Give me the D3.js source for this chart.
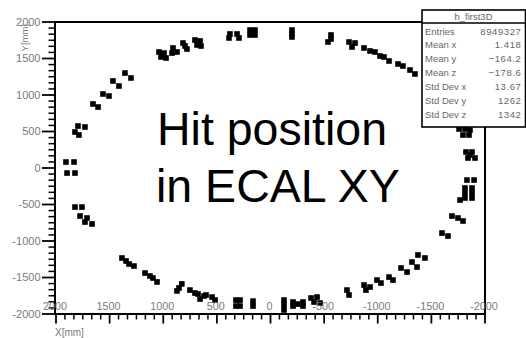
<!DOCTYPE html>
<html>
<head>
<meta charset="utf-8">
<script src="https://cdn.jsdelivr.net/npm/d3@7/dist/d3.min.js"></script>
<style>
  html, body { margin: 0; padding: 0; background: #fff; }
  svg { display: block; font-family: "Liberation Sans", Arial, sans-serif; }
</style>
</head>
<body>
<svg id="chart" width="526" height="338"></svg>
<script>
// Axis ticks (mm); the X axis runs from +2000 on the left to -2000 on the right
const xTicks = [2000, 1500, 1000, 500, 0, -500, -1000, -1500, -2000];
const yTicks = [2000, 1500, 1000, 500, 0, -500, -1000, -1500, -2000];
const xTickLabels = ["2000", "1500", "1000", "500", "0", "-500", "-1000", "-1500", "-2000"];
const yTickLabels = ["2000", "1500", "1000", "500", "0", "-500", "-1000", "-1500", "-2000"];

// Statistics box of the histogram
const statTitle = "h_first3D";
const statLabels = ["Entries", "Mean x", "Mean y", "Mean z", "Std Dev x", "Std Dev y", "Std Dev z"];
const statValues = ["8949327", "1.418", "\u2212164.2", "\u2212178.6", "13.67", "1262", "1342"];

// Hit positions [x, y] in mm, grouped by part of the ring
const hitsTop = [
  [1655, 877], [1608, 835],
  [1562, 1014], [1506, 986],
  [1469, 1192], [1413, 1123],
  [1357, 1301], [1301, 1233],
  [1040, 1589], [993, 1575], [1021, 1521], [974, 1507],
  [909, 1644], [872, 1589], [918, 1575],
  [816, 1712], [797, 1671], [779, 1630],
  [704, 1753], [657, 1740], [685, 1685], [648, 1671],
  [378, 1836], [387, 1781],
  [312, 1836], [294, 1781],
  [191, 1890], [145, 1890], [191, 1822], [145, 1822],
  [-200, 1890], [-200, 1836], [-200, 1795],
  [-564, 1822], [-564, 1767], [-536, 1726],
  [-732, 1726], [-788, 1712], [-760, 1658],
  [-872, 1644], [-928, 1603],
  [-974, 1589], [-1021, 1534],
  [-1058, 1521], [-1105, 1466],
  [-1189, 1425], [-1235, 1397],
  [-1301, 1342], [-1347, 1288],
  [-1480, 1100], [-1600, 900], [-1700, 700]
];
const hitsRight = [
  [-1758, 534], [-1813, 534], [-1860, 520],
  [-1795, 452], [-1851, 452],
  [-1823, 219], [-1879, 219], [-1860, 178], [-1841, 137], [-1907, 137],
  [-1832, -165], [-1898, -165],
  [-1813, -274], [-1879, -274], [-1813, -343], [-1879, -343],
  [-1813, -411], [-1879, -411], [-1767, -439],
  [-1692, -658], [-1748, -685], [-1795, -726],
  [-1599, -891], [-1655, -932]
];
const hitsBottom = [
  [-1375, -1192], [-1440, -1233],
  [-1319, -1288], [-1366, -1357],
  [-1217, -1370], [-1273, -1425],
  [-1105, -1494], [-1142, -1535],
  [-993, -1535], [-1030, -1576],
  [-872, -1603], [-928, -1631], [-890, -1672],
  [-713, -1672], [-732, -1740],
  [-378, -1781], [-434, -1768], [-406, -1836], [-462, -1850],
  [-210, -1836], [-256, -1864], [-303, -1836], [-210, -1891], [-303, -1891],
  [-126, -1809], [-126, -1877], [-126, -1945],
  [163, -1823], [163, -1891],
  [322, -1809], [284, -1809], [322, -1891], [284, -1891],
  [601, -1740], [545, -1768], [517, -1809],
  [676, -1726], [620, -1754], [657, -1795],
  [751, -1672], [704, -1713],
  [872, -1684], [853, -1643], [827, -1588],
  [1096, -1507], [1058, -1561],
  [1170, -1439], [1124, -1480],
  [1319, -1315], [1273, -1343],
  [1385, -1233], [1347, -1274]
];
const hitsLeft = [
  [1730, -740], [1664, -767],
  [1776, -658], [1711, -685],
  [1823, -535], [1758, -535],
  [1897, -69], [1823, -69],
  [1907, 82], [1832, 82],
  [1795, 575], [1730, 562], [1823, 493], [1786, 452]
];

const svg = d3.select("#chart");

const x = d3.scaleLinear().domain([2000, -2000]).range([56, 485]);
const y = d3.scaleLinear().domain([-2000, 2000]).range([314, 22]);

const labelGrey = "#7a7a7a";

// Minor ticks: five between neighbouring major ticks
const minorOf = ticks => {
  const out = [];
  for (let i = 0; i < ticks.length - 1; i++) {
    const a = ticks[i], b = ticks[i + 1];
    for (let k = 1; k < 6; k++) out.push(a + (b - a) * k / 6);
  }
  return out;
};

// Hits
const hitSize = 5.6;
const hits = svg.append("g");
[hitsTop, hitsRight, hitsBottom, hitsLeft].forEach(group => {
  hits.selectAll(null).data(group).enter().append("rect")
    .attr("x", d => x(d[0]) - hitSize / 2)
    .attr("y", d => y(d[1]) - hitSize / 2)
    .attr("width", hitSize)
    .attr("height", hitSize)
    .attr("fill", "#000");
});

// Frame
svg.append("rect")
  .attr("x", x(2000) - 1).attr("y", y(2000))
  .attr("width", x(-2000) - x(2000) + 1).attr("height", y(-2000) - y(2000))
  .attr("fill", "none").attr("stroke", "#000").attr("stroke-width", 2);

// Y axis ticks (outside, to the left)
const yAx = svg.append("g").attr("stroke", "#000");
yAx.selectAll(null).data(yTicks).enter().append("line")
  .attr("x1", 42).attr("x2", 55).attr("y1", d => y(d)).attr("y2", d => y(d))
  .attr("stroke-width", 1.8);
yAx.selectAll(null).data(minorOf(yTicks)).enter().append("line")
  .attr("x1", 48.5).attr("x2", 55).attr("y1", d => y(d)).attr("y2", d => y(d))
  .attr("stroke-width", 1.5);

svg.append("g").selectAll(null).data(yTicks).enter().append("text")
  .attr("x", 40.5).attr("y", d => y(d) + 3.8)
  .attr("text-anchor", "end")
  .attr("font-size", 11).attr("fill", labelGrey)
  .text((d, i) => yTickLabels[i]);

// X axis ticks (below the frame) with labels drawn just above the axis
const xAx = svg.append("g").attr("stroke", "#000");
xAx.selectAll(null).data(xTicks).enter().append("line")
  .attr("x1", d => x(d)).attr("x2", d => x(d)).attr("y1", 314).attr("y2", 323.5)
  .attr("stroke-width", 1.8);
xAx.selectAll(null).data(minorOf(xTicks)).enter().append("line")
  .attr("x1", d => x(d)).attr("x2", d => x(d)).attr("y1", 314).attr("y2", 319.5)
  .attr("stroke-width", 1.5);

svg.append("g").selectAll(null).data(xTicks).enter().append("text")
  .attr("x", d => x(d) - 1).attr("y", 309.5)
  .attr("text-anchor", "middle")
  .attr("font-size", 10.8).attr("fill", labelGrey)
  .text((d, i) => xTickLabels[i]);

// Axis titles
svg.append("text")
  .attr("transform", "translate(28,24) rotate(-90)")
  .attr("text-anchor", "end")
  .attr("font-size", 9.5).attr("fill", labelGrey)
  .text("Y[mm]");
svg.append("text")
  .attr("x", 55).attr("y", 336)
  .attr("font-size", 10).attr("fill", labelGrey)
  .text("X[mm]");

// Statistics box
const box = svg.append("g");
box.append("rect")
  .attr("x", 422).attr("y", 10).attr("width", 103.5).attr("height", 117)
  .attr("fill", "#fff").attr("stroke", "#000").attr("stroke-width", 1.6);
box.append("line")
  .attr("x1", 422).attr("x2", 525.5).attr("y1", 23).attr("y2", 23)
  .attr("stroke", "#000").attr("stroke-width", 1.6);
box.append("text")
  .attr("x", 473.5).attr("y", 19.5).attr("text-anchor", "middle")
  .attr("font-size", 9.5).attr("fill", "#666")
  .text(statTitle);
const rowY = d3.scaleLinear().domain([0, statLabels.length - 1]).range([34.5, 117.5]);
box.selectAll(null).data(statLabels).enter().append("text")
  .attr("x", 425).attr("y", (d, i) => rowY(i))
  .attr("font-size", 9.5).attr("fill", "#666")
  .text(d => d);
box.selectAll(null).data(statValues).enter().append("text")
  .attr("x", 521.5).attr("y", (d, i) => rowY(i))
  .attr("text-anchor", "end")
  .attr("font-size", 9.5).attr("fill", "#666").attr("letter-spacing", 0.6)
  .text(d => d);

// Overlay caption
const cap = svg.append("g").attr("font-size", 46.5).attr("fill", "#000");
cap.append("text").attr("x", 157).attr("y", 145).text("Hit position");
cap.append("text").attr("x", 156).attr("y", 201.5).text("in ECAL XY");
</script>
</body>
</html>
